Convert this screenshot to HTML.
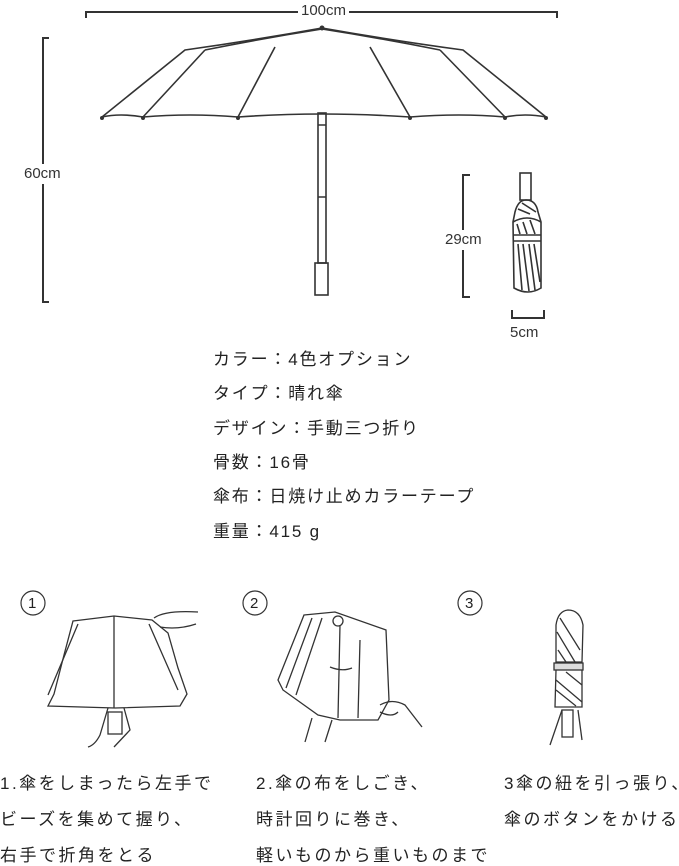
<!DOCTYPE html>
<html><head><meta charset="utf-8"><style>
body{margin:0;width:679px;height:866px;background:#fff;position:relative;overflow:hidden;font-family:"Liberation Sans","Noto Sans CJK JP",sans-serif;color:#222}
.t{position:absolute;white-space:nowrap;font-size:17px;letter-spacing:1.8px;line-height:20px}
.b{letter-spacing:2.5px}
.d{position:absolute;font-size:15px;color:#333;background:#fff;line-height:16px}
svg{position:absolute;left:0;top:0}
</style></head><body>
<svg width="679" height="866" fill="none" stroke="#333" stroke-width="1.6">
<path d="M86 18 V12 H557 V18" stroke-width="2"/>
<path d="M49 38 H43 V302 H49" stroke-width="2"/>
<path d="M470 175 H463 V297 H470" stroke-width="2"/>
<path d="M512 310 V318 H544 V310" stroke-width="2"/>
<path d="M102 117 L185 50 Q255 40 322 28 Q390 40 463 50 L546 117" />
<path d="M102 117 Q120 113 143 117 Q190 113 238 117 Q320 111 410 117 Q460 113 505 117 Q525 113 546 117"/>
<path d="M143 117 L205 50 M238 117 L275 47 M410 117 L370 47 M505 117 L440 50"/>
<path d="M205 50 Q265 38 322 29 M440 50 Q380 38 322 29"/>
<g fill="#333" stroke="none"><circle cx="102" cy="118" r="2"/><circle cx="143" cy="118" r="2"/><circle cx="238" cy="118" r="2"/><circle cx="410" cy="118" r="2"/><circle cx="505" cy="118" r="2"/><circle cx="546" cy="118" r="2"/><circle cx="322" cy="28" r="2.5"/></g>
<rect x="318" y="113" width="8" height="150"/>
<path d="M318 125 H326 M318 197 H326"/>
<rect x="315" y="263" width="13" height="32"/>
<rect x="520" y="173" width="11" height="27"/>
<path d="M515 212 Q518 200 526 200 Q536 200 538 212 L541 222 L541 288 Q528 296 514 288 L513 222 Z"/>
<path d="M513 222 Q527 214 541 222 M513 235 H541 M513 241 H541"/>
<path d="M518 244 L522 290 M523 244 L529 291 M529 244 L535 290 M534 244 L540 282 M517 224 L520 234 M523 222 L527 234 M530 220 L535 234 M518 209 L530 214 M522 203 L536 212"/>
<circle cx="33" cy="603" r="12" stroke-width="1.2"/>
<circle cx="255" cy="603" r="12" stroke-width="1.2"/>
<circle cx="470" cy="603" r="12" stroke-width="1.2"/>
<g stroke-width="1.3">
<path d="M73 621 L114 616 L152 620 L168 633 L178 668 L187 694 L180 706 L115 708 L48 706 L54 694 L64 655 Z"/>
<path d="M78 624 L48 695 M149 624 L178 690"/>
<path d="M114 616 L114 708"/>
<path d="M154 618 Q165 610 198 612 M160 627 Q178 630 196 624"/>
<path d="M108 708 L100 735 Q95 745 88 747 M124 708 L130 730 L114 747"/>
<rect x="108" y="712" width="14" height="22"/>
<path d="M304 615 L335 612 L386 630 L389 700 L378 720 L340 720 L318 715 L283 690 L278 680 Z"/>
<path d="M312 618 L286 688 M322 618 L296 695 M340 625 L338 718 M360 640 L358 718"/>
<path d="M330 667 Q342 672 352 668"/>
<circle cx="338" cy="621" r="5"/>
<path d="M380 705 Q392 698 405 705 L422 727 M380 712 Q392 718 398 712"/>
<path d="M312 718 L305 742 M332 720 L325 742"/>
<path d="M556 625 Q558 611 568 610 Q580 610 583 625 L582 662 L556 662 Z"/>
<rect x="554" y="663" width="29" height="7" fill="#ddd"/>
<path d="M556 670 L555 707 L582 707 L582 670"/>
<path d="M560 618 L580 650 M557 632 L575 662 M558 650 L566 662 M556 680 L582 702 M556 690 L576 706 M566 672 L582 685"/>
<path d="M562 710 L550 745 M578 710 L582 740"/>
<rect x="562" y="710" width="11" height="27"/>
</g>
</svg>
<div class="d" style="left:298px;top:3px;padding:0 3px">100cm</div>
<div class="d" style="left:24px;top:164px;padding:2px 0">60cm</div>
<div class="d" style="left:445px;top:230px;padding:2px 0">29cm</div>
<div class="d" style="left:510px;top:325px">5cm</div>
<div class="t" style="left:28px;top:594px;font-size:15px">1</div>
<div class="t" style="left:250px;top:594px;font-size:15px">2</div>
<div class="t" style="left:465px;top:594px;font-size:15px">3</div>
<div class="t" style="left:213px;top:350px">カラー：4色オプション</div>
<div class="t" style="left:213px;top:384px">タイプ：晴れ傘</div>
<div class="t" style="left:213px;top:419px">デザイン：手動三つ折り</div>
<div class="t" style="left:213px;top:453px">骨数：16骨</div>
<div class="t" style="left:213px;top:487px">傘布：日焼け止めカラーテープ</div>
<div class="t" style="left:213px;top:522px">重量：415 g</div>
<div class="t b" style="left:0px;top:774px">1.傘をしまったら左手で</div>
<div class="t b" style="left:0px;top:810px">ビーズを集めて握り、</div>
<div class="t b" style="left:0px;top:846px">右手で折角をとる</div>
<div class="t b" style="left:256px;top:774px">2.傘の布をしごき、</div>
<div class="t b" style="left:256px;top:810px">時計回りに巻き、</div>
<div class="t b" style="left:256px;top:846px">軽いものから重いものまで</div>
<div class="t b" style="left:504px;top:774px">3傘の紐を引っ張り、</div>
<div class="t b" style="left:504px;top:810px">傘のボタンをかける</div>
</body></html>
